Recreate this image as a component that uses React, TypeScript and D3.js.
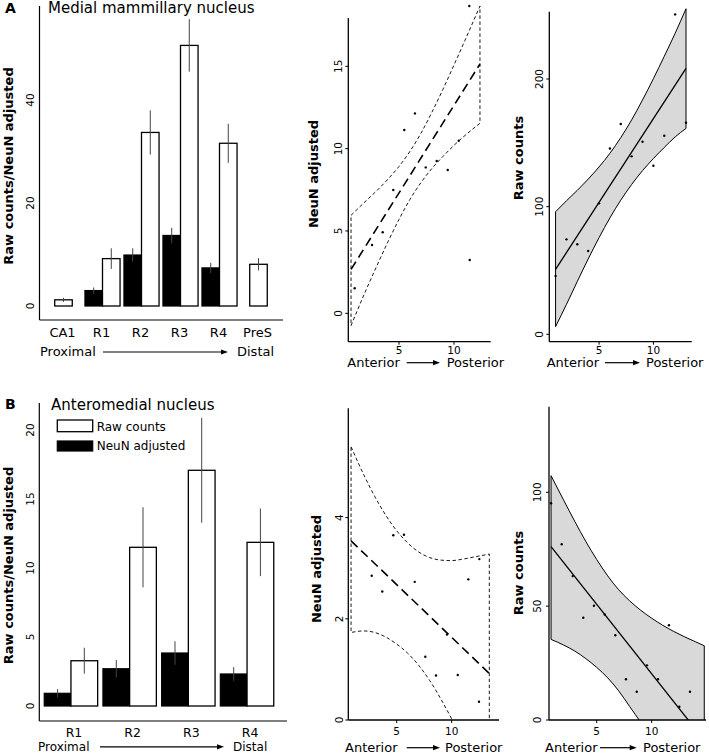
import React from "react";
import * as d3 from "d3";

const FONT = "'DejaVu Sans', Verdana, sans-serif";

// ---------- Panel A : bar chart (Medial mammillary nucleus)
const catsA = ["CA1", "R1", "R2", "R3", "R4", "PreS"];
const rawA = [1.2, 9.2, 33.7, 50.6, 31.6, 8.1];
const rawErrA = [0.4, 2.0, 4.3, 5.1, 3.8, 1.2];
const neunA: (number | null)[] = [null, 3.0, 9.9, 13.7, 7.4, null];
const neunErrA: (number | null)[] = [null, 0.6, 1.3, 1.5, 1.0, null];
const yTicksA = [0, 20, 40];

// ---------- Panel B : bar chart (Anteromedial nucleus)
const catsB = ["R1", "R2", "R3", "R4"];
const rawB = [3.28, 11.5, 17.08, 11.86];
const rawErrB = [0.94, 2.9, 3.8, 2.45];
const neunB: (number | null)[] = [0.92, 2.7, 3.84, 2.32];
const neunErrB: (number | null)[] = [0.3, 0.63, 0.85, 0.5];
const yTicksB = [0, 5, 10, 15, 20];

// ---------- Panel A middle : NeuN adjusted vs position
const ptsXA1 = [0.97, 2.55, 3.52, 4.48, 5.48, 6.45, 7.43, 8.43, 9.43, 10.43, 11.43, 11.39];
const ptsYA1 = [1.52, 4.15, 4.92, 7.49, 11.13, 12.14, 8.86, 9.25, 8.7, 10.48, 3.24, 18.66];
const fitXA1 = [0.64, 12.36];
const fitYA1 = [2.67, 15.14];
const bandXA1 = [0.64, 2, 3, 4, 5, 6, 7, 8, 9, 10, 11, 12.36];
const bandUpA1 = [5.95, 6.83, 7.46, 8.15, 8.92, 9.84, 10.94, 12.22, 13.61, 15.08, 16.58, 18.66];
const bandLoA1 = [-0.75, 1.41, 2.9, 4.35, 5.7, 6.92, 7.94, 8.8, 9.53, 10.2, 10.8, 11.54];
const yTicksA1 = [0, 5, 10, 15];

// ---------- Panel A right : Raw counts vs position
const ptsXA2 = [1, 2, 3, 4, 5, 6, 7, 8, 9, 10, 11, 12, 13];
const ptsYA2 = [45.7, 74.4, 70.5, 65.2, 102.6, 145.6, 164.7, 139.4, 150.8, 132, 155.5, 250.6, 165.7];
const fitXA2 = [1, 13];
const fitYA2 = [50.9, 208.3];
const bandXA2 = [1, 2, 3, 4, 5, 6, 7, 8, 9, 10, 11, 12, 13];
const bandUpA2 = [96.0, 104.6, 112.8, 121.6, 131.1, 141.8, 154.1, 168.0, 183.6, 200.3, 217.8, 235.8, 255.0];
const bandLoA2 = [6.0, 23.4, 41.4, 59.0, 75.7, 91.2, 105.1, 117.4, 128.2, 137.7, 146.4, 154.6, 161.3];
const yTicksA2 = [0, 100, 200];

// ---------- Panel B middle : NeuN adjusted vs position
const ptsXB1 = [2.73, 3.69, 4.69, 5.66, 6.64, 7.6, 8.57, 9.57, 10.55, 11.51, 12.51, 12.48];
const ptsYB1 = [2.85, 2.54, 3.65, 3.66, 2.73, 1.25, 0.88, 1.69, 0.89, 2.78, 3.18, 0.36];
const fitXB1 = [0.85, 13.42];
const fitYB1 = [3.54, 0.92];
const bandXB1 = [0.85, 2, 3, 4, 5, 6, 7, 8, 9, 10, 11, 12, 13.42];
const bandUpB1 = [5.4, 4.85, 4.42, 4.05, 3.74, 3.5, 3.32, 3.21, 3.16, 3.15, 3.18, 3.22, 3.28];
const bandLoB1 = [1.73, 1.76, 1.73, 1.64, 1.5, 1.32, 1.08, 0.78, 0.42, 0.02, -0.42, -0.86, -1.51];
const yTicksB1 = [0, 2, 4];

// ---------- Panel B right : Raw counts vs position
const ptsXB2 = [0.85, 1.82, 2.82, 3.78, 4.75, 5.73, 6.69, 7.66, 8.64, 9.57, 10.57, 11.57, 12.51, 13.48];
const ptsYB2 = [95.2, 77.2, 63.2, 44.9, 50.2, 46.3, 37.2, 17.9, 12.4, 24.0, 17.9, 41.6, 5.8, 12.4];
const fitXB2 = [0.85, 14.78];
const fitYB2 = [76.1, -8.9];
const bandXB2 = [0.85, 2, 3, 4, 5, 6, 7, 8, 9, 10, 11, 12, 13, 14, 14.78];
const bandUpB2 = [107.3, 96.5, 87.3, 78.5, 70.5, 63.3, 57.2, 52.3, 48.2, 44.7, 41.6, 38.9, 36.5, 34.3, 32.6];
const bandLoB2 = [35.4, 32.9, 30.3, 27.0, 23.1, 18.5, 12.8, 5.9, -1.0, -8.5, -16.5, -25, -33.5, -42, -49];
const yTicksB2 = [0, 50, 100];

const xTicksScatter = [5, 10];

function Arrow({ x1, x2, y }: { x1: number; x2: number; y: number }) {
  return (
    <g>
      <line x1={x1} x2={x2 - 5} y1={y} y2={y} stroke="#000" strokeWidth={1.2} />
      <path d={`M${x2},${y} L${x2 - 7},${y - 2.6} L${x2 - 7},${y + 2.6} Z`} fill="#000" />
    </g>
  );
}

type BarProps = {
  cats: string[];
  raw: number[];
  rawErr: number[];
  neun: (number | null)[];
  neunErr: (number | null)[];
  ticks: number[];
  yDom: [number, number];
  yRng: [number, number];
  xRng: [number, number];
  padIn: number;
  padOut: number;
  axisX: number;
  axisTop: number;
  axisY: number;
  axisRight: number;
  tickLabelX: number;
  catY: number;
  catDx: number;
  catSize: number;
  ylabX: number;
  ylabY: number;
  proxX: number;
  proxY: number;
  proxSize: number;
  arrowX1: number;
  arrowX2: number;
  distX: number;
};

function BarPanel(p: BarProps) {
  const x = d3.scaleBand<string>().domain(p.cats).range(p.xRng).paddingInner(p.padIn).paddingOuter(p.padOut);
  const y = d3.scaleLinear().domain(p.yDom).range(p.yRng);
  const bw = x.bandwidth();
  const half = bw / 2;
  return (
    <g fontFamily={FONT}>
      {p.cats.map((c, i) => {
        const g0 = x(c)!;
        const nv = p.neun[i];
        const ne = p.neunErr[i];
        const wx = nv == null ? g0 + bw / 4 : g0 + half;
        const rv = p.raw[i];
        const re = p.rawErr[i];
        return (
          <g key={c}>
            {nv != null && (
              <rect x={g0} y={y(nv)} width={half} height={y(0) - y(nv)} fill="#000" stroke="#000" strokeWidth={1.2} />
            )}
            <rect x={wx} y={y(rv)} width={half} height={y(0) - y(rv)} fill="#fff" stroke="#000" strokeWidth={1.3} />
            {nv != null && ne != null && (
              <line x1={g0 + half / 2} x2={g0 + half / 2} y1={y(nv + ne)} y2={y(nv - ne)} stroke="#444" strokeWidth={1} />
            )}
            <line x1={wx + half / 2} x2={wx + half / 2} y1={y(rv + re)} y2={y(Math.max(rv - re, 0))} stroke="#444" strokeWidth={1} />
            <text x={g0 + bw / 2 + p.catDx} y={p.catY} fontSize={p.catSize} textAnchor="middle">{c}</text>
          </g>
        );
      })}
      <line x1={p.axisX} x2={p.axisX} y1={p.axisTop} y2={p.axisY} stroke="#000" strokeWidth={1.2} />
      <line x1={p.axisX} x2={p.axisRight} y1={p.axisY} y2={p.axisY} stroke="#000" strokeWidth={1.2} />
      {p.ticks.map((t) => (
        <text key={t} transform={`translate(${p.tickLabelX},${y(t)}) rotate(-90)`} fontSize={10.5} textAnchor="middle">{t}</text>
      ))}
      <text transform={`translate(${p.ylabX},${p.ylabY}) rotate(-90)`} fontSize={13} fontWeight="bold" textAnchor="middle">
        Raw counts/NeuN adjusted
      </text>
      <text x={p.proxX} y={p.proxY} fontSize={p.proxSize}>Proximal</text>
      <Arrow x1={p.arrowX1} x2={p.arrowX2} y={p.proxY - 4} />
      <text x={p.distX} y={p.proxY} fontSize={p.proxSize}>Distal</text>
    </g>
  );
}

type ScatterProps = {
  id: string;
  xs: number[];
  ys: number[];
  fitX: number[];
  fitY: number[];
  bandX: number[];
  bandUp: number[];
  bandLo: number[];
  filled: boolean;
  xRng: [number, number];
  yDom: [number, number];
  yRng: [number, number];
  yTicks: number[];
  axisX: number;
  axisTop: number;
  axisY: number;
  axisRight: number;
  tickLabelX: number;
  xTickY: number;
  ylab: string;
  ylabX: number;
  ylabY: number;
  antX: number;
  antY: number;
  arrowX1: number;
  arrowX2: number;
  postX: number;
};

function ScatterPanel(p: ScatterProps) {
  const x = d3.scaleLinear().domain([0, 10]).range(p.xRng);
  const y = d3.scaleLinear().domain(p.yDom).range(p.yRng);
  const idx = p.bandX.map((_, i) => i);
  const area = d3
    .area<number>()
    .x((i) => x(p.bandX[i]))
    .y0((i) => y(p.bandLo[i]))
    .y1((i) => y(p.bandUp[i]))
    .curve(d3.curveMonotoneX);
  const fit = d3
    .line<number>()
    .x((i) => x(p.fitX[i]))
    .y((i) => y(p.fitY[i]));
  const bandPath = area(idx) || "";
  const fitPath = fit([0, 1]) || "";
  return (
    <g fontFamily={FONT}>
      <defs>
        <clipPath id={p.id}>
          <rect x={p.axisX} y={0} width={p.axisRight - p.axisX + 30} height={p.axisY} />
        </clipPath>
      </defs>
      <g clipPath={`url(#${p.id})`}>
        {p.filled ? (
          <path d={bandPath} fill="#d9d9d9" stroke="#000" strokeWidth={1} />
        ) : (
          <path d={bandPath} fill="none" stroke="#000" strokeWidth={0.9} strokeDasharray="3.5,2.5" />
        )}
        <path
          d={fitPath}
          fill="none"
          stroke="#000"
          strokeWidth={p.filled ? 1.3 : 1.6}
          strokeDasharray={p.filled ? undefined : "9,5"}
        />
        {p.xs.map((v, i) => (
          <circle key={i} cx={x(v)} cy={y(p.ys[i])} r={1.2} fill="#000" />
        ))}
      </g>
      <line x1={p.axisX} x2={p.axisX} y1={p.axisTop} y2={p.axisY} stroke="#000" strokeWidth={1.3} />
      <line x1={p.axisX} x2={p.axisRight} y1={p.axisY} y2={p.axisY} stroke="#000" strokeWidth={1.3} />
      {p.yTicks.map((t) => (
        <g key={t}>
          <line x1={p.axisX - 3} x2={p.axisX} y1={y(t)} y2={y(t)} stroke="#000" strokeWidth={1} />
          <text transform={`translate(${p.tickLabelX},${y(t)}) rotate(-90)`} fontSize={10.5} textAnchor="middle">{t}</text>
        </g>
      ))}
      {xTicksScatter.map((t) => (
        <g key={t}>
          <line x1={x(t)} x2={x(t)} y1={p.axisY} y2={p.axisY + 3} stroke="#000" strokeWidth={1} />
          <text x={x(t)} y={p.xTickY} fontSize={10.5} textAnchor="middle">{t}</text>
        </g>
      ))}
      <text transform={`translate(${p.ylabX},${p.ylabY}) rotate(-90)`} fontSize={13} fontWeight="bold" textAnchor="middle">
        {p.ylab}
      </text>
      <text x={p.antX} y={p.antY} fontSize={13}>Anterior</text>
      <Arrow x1={p.arrowX1} x2={p.arrowX2} y={p.antY - 4} />
      <text x={p.postX} y={p.antY} fontSize={13}>Posterior</text>
    </g>
  );
}

export default function App() {
  return (
    <svg
      width={709}
      height={754}
      viewBox="0 0 709 754"
      style={{ position: "absolute", left: 0, top: 0, background: "#fff" }}
    >
      <rect x={0} y={0} width={709} height={754} fill="#fff" />
      {/* Panel labels and titles */}
      <text x={5} y={13} fontFamily={FONT} fontSize={14} fontWeight="bold">A</text>
      <text x={48} y={12.7} fontFamily={FONT} fontSize={15}>Medial mammillary nucleus</text>
      <text x={5} y={409.3} fontFamily={FONT} fontSize={14} fontWeight="bold">B</text>
      <text x={51} y={410} fontFamily={FONT} fontSize={15}>Anteromedial nucleus</text>

      {/* Legend */}
      <rect x={57.3} y={420} width={35.4} height={11.7} fill="#fff" stroke="#000" strokeWidth={1.3} />
      <text x={96.7} y={431.3} fontFamily={FONT} fontSize={12}>Raw counts</text>
      <rect x={57.3} y={441} width={35.4} height={10} fill="#000" stroke="#000" strokeWidth={1.2} />
      <text x={96.7} y={450.3} fontFamily={FONT} fontSize={12}>NeuN adjusted</text>

      <BarPanel
        cats={catsA}
        raw={rawA}
        rawErr={rawErrA}
        neun={neunA}
        neunErr={neunErrA}
        ticks={yTicksA}
        yDom={[0, 40]}
        yRng={[306, 100]}
        xRng={[44, 278]}
        padIn={0.1}
        padOut={0.05}
        axisX={39.5}
        axisTop={6}
        axisY={320}
        axisRight={283}
        tickLabelX={34}
        catY={336.7}
        catDx={-1}
        catSize={13}
        ylabX={13.3}
        ylabY={166}
        proxX={40}
        proxY={356}
        proxSize={13}
        arrowX1={103}
        arrowX2={228}
        distX={237}
      />
      <BarPanel
        cats={catsB}
        raw={rawB}
        rawErr={rawErrB}
        neun={neunB}
        neunErr={neunErrB}
        ticks={yTicksB}
        yDom={[0, 20]}
        yRng={[706, 430]}
        xRng={[41.6, 276.4]}
        padIn={0.09}
        padOut={0.045}
        axisX={39.3}
        axisTop={403}
        axisY={721}
        axisRight={287}
        tickLabelX={34}
        catY={736.5}
        catDx={3}
        catSize={12.5}
        ylabX={12.5}
        ylabY={565.5}
        proxX={38}
        proxY={750.8}
        proxSize={12}
        arrowX1={100}
        arrowX2={224}
        distX={233}
      />

      <ScatterPanel
        id="clipA1"
        xs={ptsXA1}
        ys={ptsYA1}
        fitX={fitXA1}
        fitY={fitYA1}
        bandX={bandXA1}
        bandUp={bandUpA1}
        bandLo={bandLoA1}
        filled={false}
        xRng={[344, 454]}
        yDom={[0, 15]}
        yRng={[313.3, 66.3]}
        yTicks={yTicksA1}
        axisX={348.3}
        axisTop={18}
        axisY={341.7}
        axisRight={490.7}
        tickLabelX={342.3}
        xTickY={354}
        ylab="NeuN adjusted"
        ylabX={318.3}
        ylabY={174}
        antX={347.3}
        antY={366.7}
        arrowX1={406.7}
        arrowX2={440}
        postX={446.7}
      />
      <ScatterPanel
        id="clipA2"
        xs={ptsXA2}
        ys={ptsYA2}
        fitX={fitXA2}
        fitY={fitYA2}
        bandX={bandXA2}
        bandUp={bandUpA2}
        bandLo={bandLoA2}
        filled={true}
        xRng={[544.7, 653.4]}
        yDom={[0, 200]}
        yRng={[334.3, 79]}
        yTicks={yTicksA2}
        axisX={549.3}
        axisTop={11.7}
        axisY={341.7}
        axisRight={691.7}
        tickLabelX={543}
        xTickY={354}
        ylab="Raw counts"
        ylabX={523.3}
        ylabY={158}
        antX={546.7}
        antY={366.7}
        arrowX1={605}
        arrowX2={640}
        postX={646}
      />
      <ScatterPanel
        id="clipB1"
        xs={ptsXB1}
        ys={ptsYB1}
        fitX={fitXB1}
        fitY={fitYB1}
        bandX={bandXB1}
        bandUp={bandUpB1}
        bandLo={bandLoB1}
        filled={false}
        xRng={[341.7, 451.7]}
        yDom={[0, 4]}
        yRng={[720, 517.6]}
        yTicks={yTicksB1}
        axisX={348.3}
        axisTop={408.3}
        axisY={720}
        axisRight={499}
        tickLabelX={343}
        xTickY={735}
        ylab="NeuN adjusted"
        ylabX={321}
        ylabY={569}
        antX={345}
        antY={751.7}
        arrowX1={406.7}
        arrowX2={440}
        postX={445}
      />
      <ScatterPanel
        id="clipB2"
        xs={ptsXB2}
        ys={ptsYB2}
        fitX={fitXB2}
        fitY={fitYB2}
        bandX={bandXB2}
        bandUp={bandUpB2}
        bandLo={bandLoB2}
        filled={true}
        xRng={[541.7, 651.7]}
        yDom={[0, 100]}
        yRng={[720, 492.3]}
        yTicks={yTicksB2}
        axisX={549}
        axisTop={406.7}
        axisY={720}
        axisRight={706}
        tickLabelX={541}
        xTickY={735}
        ylab="Raw counts"
        ylabX={523}
        ylabY={573}
        antX={545}
        antY={751.7}
        arrowX1={600}
        arrowX2={636.7}
        postX={643}
      />
    </svg>
  );
}
